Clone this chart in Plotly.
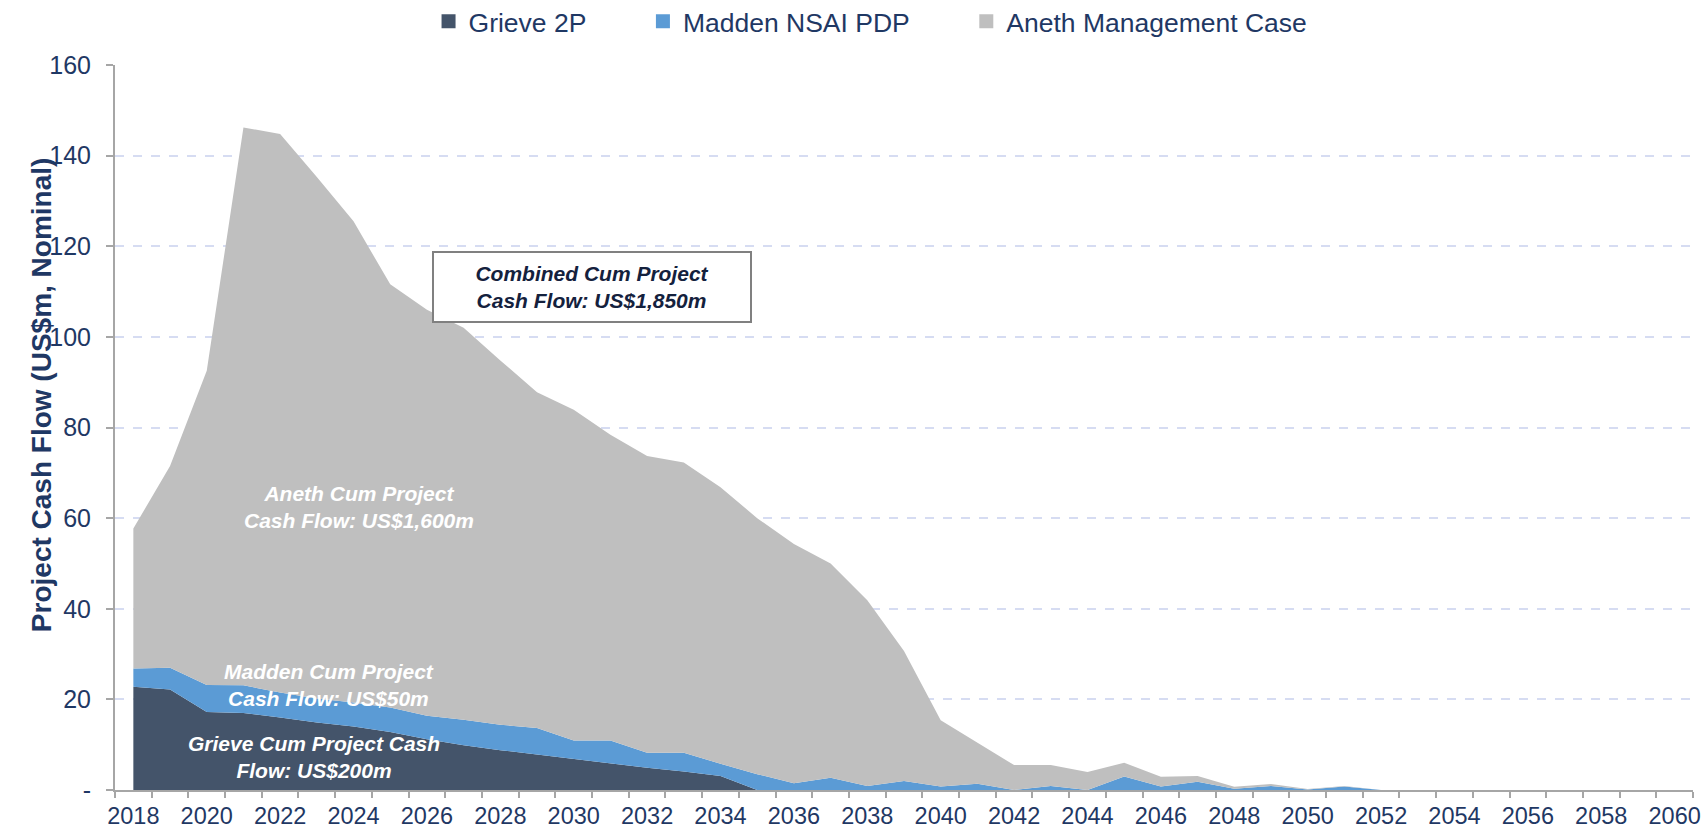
import plotly.graph_objects as go

years = list(range(2018, 2053))

grieve_2p = [22.8, 22.2, 17.2, 17.0, 16.0, 14.9, 14.0, 12.8, 11.2, 9.9,
             8.8, 7.8, 6.8, 5.9, 4.9, 4.1, 3.1, 0, 0, 0,
             0, 0, 0, 0, 0, 0, 0, 0, 0, 0,
             0, 0, 0, 0, 0]

madden_pdp = [4.0, 4.8, 6.0, 6.1, 5.5, 5.3, 5.3, 5.4, 5.2, 5.6,
              5.6, 5.9, 4.1, 5.0, 3.3, 4.1, 2.7, 3.5, 1.5, 2.7,
              0.9, 2.0, 0.8, 1.4, 0.0, 0.9, 0.0, 3.0, 0.8, 1.8,
              0.3, 0.9, 0.1, 0.8, 0.0]

aneth_mgmt = [30.9, 44.5, 69.3, 123.1, 123.3, 115.1, 106.2, 93.4, 89.6, 86.5,
              80.4, 74.1, 73.0, 67.5, 65.5, 64.1, 61.0, 56.5, 52.8, 47.3,
              41.0, 28.7, 14.6, 9.1, 5.5, 4.6, 4.0, 3.0, 2.1, 1.3,
              0.4, 0.4, 0.1, 0.1, 0.0]

series_names = ["Grieve 2P", "Madden NSAI PDP", "Aneth Management Case"]
series_colors = ["#44546A", "#5B9BD5", "#BFBFBF"]

y_tickvals = [0, 20, 40, 60, 80, 100, 120, 140, 160]
y_ticktext = ["-", "20", "40", "60", "80", "100", "120", "140", "160"]
x_tickvals = list(range(2018, 2061, 2))
x_minor_ticks = [y - 0.5 for y in range(2018, 2062)]

FONT = "Liberation Sans, Arial, sans-serif"
NAVY = "#1F3864"
PAD = "\u00a0" * 7

fig = go.Figure()
for name, vals, col in zip(series_names, [grieve_2p, madden_pdp, aneth_mgmt], series_colors):
    fig.add_trace(go.Scatter(
        x=years, y=vals, name=name, stackgroup="one", mode="lines",
        line=dict(width=0, color=col), fillcolor=col, showlegend=False,
    ))
# legend entries with square markers
for i, (name, col) in enumerate(zip(series_names, series_colors)):
    label = name + (PAD if i < len(series_names) - 1 else "")
    fig.add_trace(go.Scatter(
        x=[None], y=[None], name=label, mode="markers",
        marker=dict(symbol="square", size=14, color=col), showlegend=True,
    ))

annotations = [
    dict(x=2030.5, y=111, xref="x", yref="y",
         text="<b><i>Combined Cum Project<br>Cash Flow: US$1,850m</i></b>",
         showarrow=False, font=dict(family=FONT, size=21, color="#14213D"),
         bgcolor="white", bordercolor="#808080", borderwidth=2,
         width=314, height=66, align="center"),
    dict(x=2024.15, y=62.5, xref="x", yref="y",
         text="<b><i>Aneth Cum Project<br>Cash Flow: US$1,600m</i></b>",
         showarrow=False, font=dict(family=FONT, size=21, color="white"), align="center"),
    dict(x=2023.33, y=23.1, xref="x", yref="y",
         text="<b><i>Madden Cum Project<br>Cash Flow: US$50m</i></b>",
         showarrow=False, font=dict(family=FONT, size=21, color="white"), align="center"),
    dict(x=2022.92, y=7.2, xref="x", yref="y",
         text="<b><i>Grieve Cum Project Cash<br>Flow: US$200m</i></b>",
         showarrow=False, font=dict(family=FONT, size=21, color="white"), align="center"),
    dict(x=-0.058, y=0.546, xref="paper", yref="paper",
         text="<b>Project Cash Flow (US$m, Nominal)</b>", textangle=-90,
         showarrow=False, font=dict(family=FONT, size=28, color=NAVY)),
]

fig.update_layout(
    width=1702, height=829,
    margin=dict(l=115, r=9, t=65, b=39),
    plot_bgcolor="white", paper_bgcolor="white",
    font=dict(family=FONT, color=NAVY),
    showlegend=True,
    legend=dict(orientation="h", x=0.1987, xanchor="left",
                yref="container", y=0.974, yanchor="middle",
                traceorder="normal",
                font=dict(family=FONT, size=26.5, color=NAVY),
                bgcolor="rgba(0,0,0,0)", itemclick=False),
    annotations=annotations,
    xaxis=dict(
        range=[2017.5, 2060.5], tickmode="array", tickvals=x_tickvals,
        ticktext=[str(v) for v in x_tickvals], ticks="", showgrid=False,
        showline=True, linecolor="#A6A6A6", linewidth=2, zeroline=False,
        automargin=False,
        tickfont=dict(family=FONT, size=23.5, color=NAVY),
        minor=dict(tickmode="array", tickvals=x_minor_ticks, ticks="outside",
                   ticklen=6, tickcolor="#A6A6A6", tickwidth=2, showgrid=False),
        ticklabelstandoff=4,
    ),
    yaxis=dict(
        range=[0, 160], tickmode="array", tickvals=y_tickvals, ticktext=y_ticktext,
        ticks="outside", ticklen=7, tickcolor="#A6A6A6", tickwidth=2,
        showline=True, linecolor="#A6A6A6", linewidth=2, zeroline=False,
        automargin=False,
        showgrid=True, gridcolor="#D6DCF2", griddash="dash", gridwidth=1.5,
        tickfont=dict(family=FONT, size=25, color=NAVY),
        ticklabelstandoff=10,
    ),
)

fig.write_html("out.html", config={"displayModeBar": False},
               post_script="document.body.style.margin='0px';")
